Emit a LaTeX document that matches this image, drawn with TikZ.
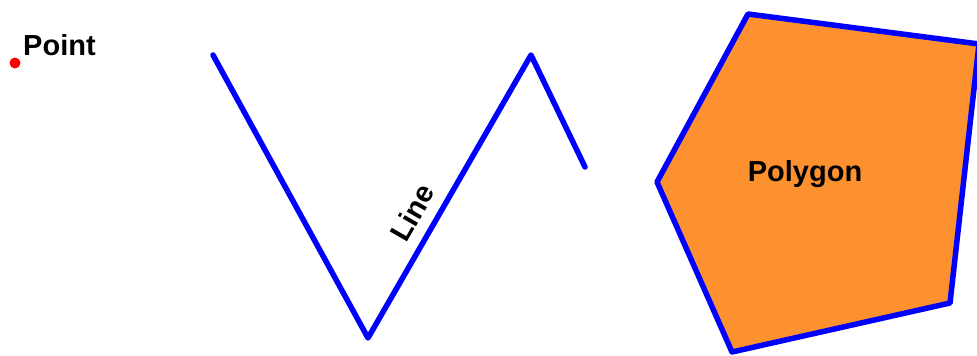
\documentclass[tikz,border=0pt]{standalone}
\usepackage{fontspec}
\setmainfont{Liberation Sans}
\usetikzlibrary{positioning}
\definecolor{geoblue}{RGB}{0,0,255}
\definecolor{geoorange}{RGB}{253,145,47}

\begin{document}
\begin{tikzpicture}[x=1pt, y=-1pt,
        geom/.style={draw=geoblue, line width=5.5pt, line join=round, line cap=round},
        tag/.style={font=\bfseries\fontsize{29}{33}\selectfont, inner sep=0pt}
    ]
        \useasboundingbox (0,0) rectangle (977,356);

        % Point
        \node[circle, fill=red, inner sep=0pt, minimum size=11pt] (pt) at (15,63) {};
        \node[tag, anchor=west] (ptlabel) at (23,45) {Point};

        % Line
        \coordinate (l1) at (213,55);
        \coordinate (l2) at (368,338);
        \coordinate (l3) at (531,55);
        \coordinate (l4) at (585,167);
        \draw[geom] (l1) -- (l2) -- node[tag, pos=0.4, sloped, above=11pt] (linelabel) {Line} (l3) -- (l4);

        % Polygon
        \coordinate (p1) at (748,14);
        \coordinate (p2) at (979,44);
        \coordinate (p3) at (950,303);
        \coordinate (p4) at (732,352);
        \coordinate (p5) at (657,182);
        \draw[geom, fill=geoorange] (p1) -- (p2) -- (p3) -- (p4) -- (p5) -- cycle;
        \node[tag] (polylabel) at (805,174) {Polygon};
    \end{tikzpicture}
\end{document}
